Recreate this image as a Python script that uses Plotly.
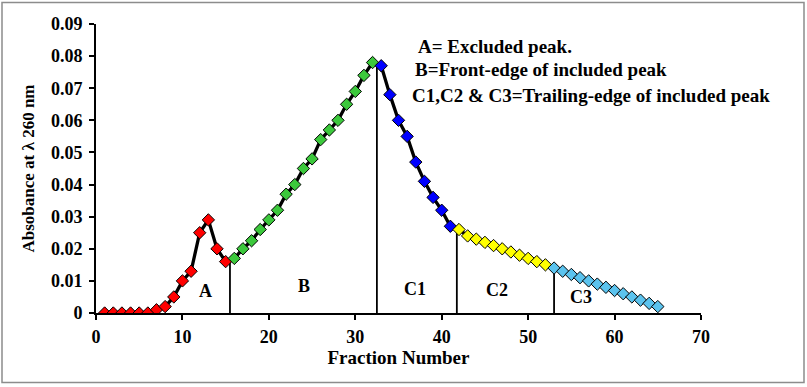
import plotly.graph_objects as go

fractions = list(range(1, 66))
absorbance = [
    0, 0, 0, 0, 0, 0, 0.001, 0.002, 0.005, 0.010, 0.013, 0.025, 0.029, 0.020, 0.016,
    0.017, 0.020, 0.0225, 0.026, 0.029, 0.032, 0.037, 0.040, 0.045, 0.048, 0.054, 0.057, 0.060, 0.065, 0.069, 0.074, 0.078,
    0.077, 0.068, 0.060, 0.055, 0.047, 0.041, 0.036, 0.032, 0.027,
    0.026, 0.024, 0.023, 0.022, 0.021, 0.020, 0.019, 0.018, 0.017, 0.016, 0.015,
    0.014, 0.013, 0.012, 0.011, 0.010, 0.009, 0.008, 0.007, 0.006, 0.005, 0.004, 0.003, 0.002,
]
segment_names = ["A", "B", "C1", "C2", "C3"]
segment_ends = [15, 32, 41, 52, 65]  # last fraction of each segment
segment_colors = ["#FF0000", "#3CC83C", "#0000FF", "#FFFF00", "#5BC3EE"]
divider_x = [15.5, 32.5, 41.75, 53.0]
divider_top = [0.0165, 0.078, 0.025, 0.0145]
label_x = [12.7, 24.1, 36.9, 46.4, 56.1]
label_y = [0.0069, 0.0085, 0.0076, 0.0073, 0.0050]
legend_lines = ["A= Excluded peak.", "B=Front-edge of included peak",
                "C1,C2 & C3=Trailing-edge of included peak"]

FONT = "Liberation Serif, Times New Roman, serif"

fig = go.Figure()
for dx, dt in zip(divider_x, divider_top):
    fig.add_trace(go.Scatter(x=[dx, dx], y=[0, dt], mode="lines",
                             line=dict(color="black", width=1.8), showlegend=False, hoverinfo="skip"))
fig.add_trace(go.Scatter(x=fractions, y=absorbance, mode="lines",
                         line=dict(color="black", width=3.3), showlegend=False))
start = 0
for name, end, col in zip(segment_names, segment_ends, segment_colors):
    xs = fractions[start:end]
    ys = absorbance[start:end]
    fig.add_trace(go.Scatter(x=xs, y=ys, mode="markers", name=name,
                             marker=dict(symbol="diamond", size=9.5, color=col,
                                         line=dict(color="black", width=1)),
                             showlegend=False))
    start = end

for name, lx, ly in zip(segment_names, label_x, label_y):
    fig.add_annotation(x=lx, y=ly, text="<b>%s</b>" % name, showarrow=False,
                       font=dict(family=FONT, size=18, color="black"))

legend_pos = [(418, 46), (415, 69), (412, 95)]
for txt, (px, py) in zip(legend_lines, legend_pos):
    fig.add_annotation(xref="paper", yref="paper",
                       x=(px - 96) / 605.0, y=1 - (py - 23.5) / 289.8,
                       xanchor="left", yanchor="middle", xshift=-2,
                       text="<b>%s</b>" % txt, showarrow=False,
                       font=dict(family=FONT, size=19, color="black"))

fig.add_shape(type="rect", xref="paper", yref="paper",
              x0=(2 - 96) / 605.0, x1=(804 - 96) / 605.0,
              y0=1 - (383 - 23.5) / 289.8, y1=1 - (2 - 23.5) / 289.8,
              line=dict(color="#8C8C8C", width=1.5), fillcolor="rgba(0,0,0,0)")

ytick_vals = [0, 0.01, 0.02, 0.03, 0.04, 0.05, 0.06, 0.07, 0.08, 0.09]
ytick_text = ["0", "0.01", "0.02", "0.03", "0.04", "0.05", "0.06", "0.07", "0.08", "0.09"]
xtick_vals = [0, 10, 20, 30, 40, 50, 60, 70]

fig.update_layout(
    width=807, height=387,
    margin=dict(l=96, r=106, t=23.5, b=73.7),
    paper_bgcolor="white", plot_bgcolor="white",
    font=dict(family=FONT, size=18, color="black"),
    xaxis=dict(range=[0, 70], tickvals=xtick_vals, ticktext=["<b>%d</b>" % v for v in xtick_vals],
               showgrid=False, zeroline=False, showline=True, linecolor="black", linewidth=2,
               ticks="outside", ticklen=5, tickwidth=2, tickcolor="black",
               tickfont=dict(family=FONT, size=18, color="black"), ticklabelstandoff=1,
               title=dict(text="<b>Fraction Number</b>", font=dict(family=FONT, size=19), standoff=4)),
    yaxis=dict(range=[0, 0.09], tickvals=ytick_vals, ticktext=["<b>%s</b>" % t for t in ytick_text],
               showgrid=False, zeroline=False, showline=True, linecolor="black", linewidth=2,
               ticks="outside", ticklen=5, tickwidth=2, tickcolor="black",
               tickfont=dict(family=FONT, size=18, color="black"), ticklabelstandoff=3,
               title=dict(text="<b>Absobance at λ 260 nm</b>", font=dict(family=FONT, size=17), standoff=12)),
)

fig.write_html("out.html", config={"displayModeBar": False},
               post_script="document.body.style.margin='0px';")
